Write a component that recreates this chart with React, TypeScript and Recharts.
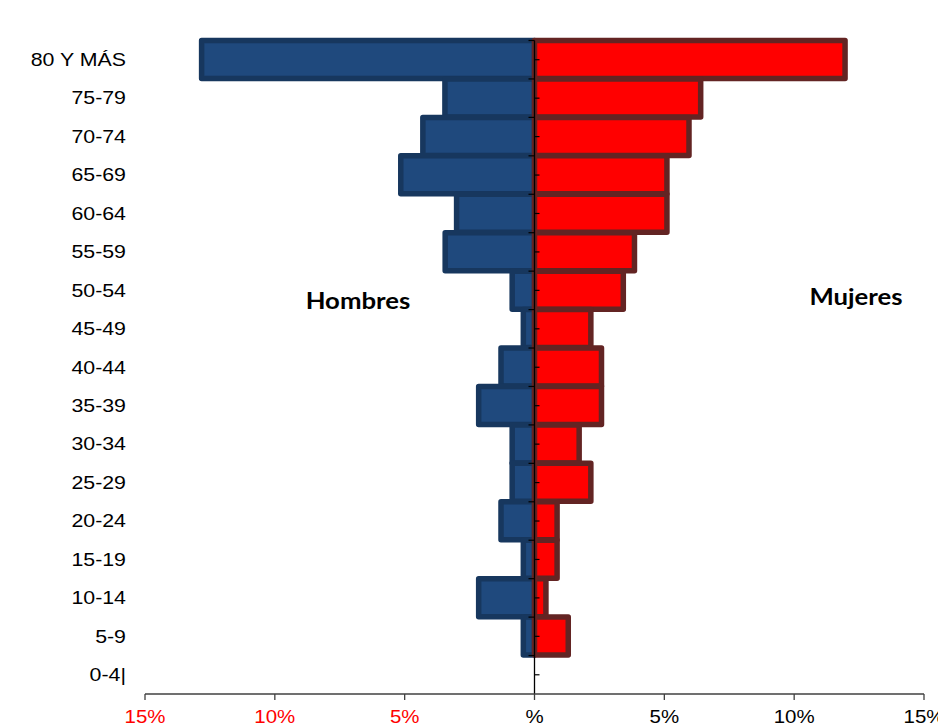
import React from "react";
import { BarChart, Bar, XAxis, YAxis, ReferenceLine } from "recharts";

const categories = [
  "80 Y MÁS", "75-79", "70-74", "65-69", "60-64", "55-59", "50-54", "45-49",
  "40-44", "35-39", "30-34", "25-29", "20-24", "15-19", "10-14", "5-9", "0-4|",
];
const hombres = [12.82, 3.45, 4.3, 5.15, 3.0, 3.44, 0.86, 0.43, 1.29, 2.15, 0.86, 0.86, 1.29, 0.43, 2.15, 0.43, 0];
const mujeres = [11.96, 6.4, 5.95, 5.1, 5.1, 3.85, 3.42, 2.17, 2.58, 2.58, 1.72, 2.17, 0.87, 0.87, 0.44, 1.3, 0];
const xTicks = [-15, -10, -5, 0, 5, 10, 15];

const data = categories.map((cat, i) => ({
  cat,
  hombres: -hombres[i],
  mujeres: mujeres[i],
}));

const FONT = "'Liberation Sans', Arial, sans-serif";

const YTick = (props: any) => {
  const { x, y, payload } = props;
  return (
    <g transform={`translate(${x},${y}) scale(1.22,1)`}>
      <text x={0} y={0} dy="0.36em" textAnchor="end" fontSize={17.5} fontFamily={FONT} fill="#000">
        {payload.value}
      </text>
    </g>
  );
};

const XTick = (props: any) => {
  const { x, y, payload } = props;
  const v = payload.value as number;
  const label = v === 0 ? "%" : `${Math.abs(v)}%`;
  return (
    <g transform={`translate(${x},${y + 20.5}) scale(1.17,1)`}>
      <text x={0} y={0} textAnchor="middle" fontSize={17.5} fontFamily={FONT} fill={v < 0 ? "#FF0000" : "#000"}>
        {label}
      </text>
    </g>
  );
};

const CenterAxis = (props: any) => {
  const { x1, y1, y2 } = props;
  const top = Math.min(y1, y2);
  const bottom = Math.max(y1, y2);
  const n = categories.length;
  const step = (bottom - top) / n;
  const marks = [];
  for (let k = 0; k < n; k++) {
    const yb = top + k * step;
    const ym = yb + step / 2;
    marks.push(<line key={`b${k}`} x1={x1 - 6} x2={x1} y1={yb} y2={yb} stroke="#000" strokeWidth={1.2} />);
    marks.push(<line key={`m${k}`} x1={x1} x2={x1 + 5} y1={ym} y2={ym} stroke="#000" strokeWidth={1.2} />);
  }
  return (
    <g>
      <line x1={x1} x2={x1} y1={top} y2={bottom} stroke="#000" strokeWidth={1.3} />
      {marks}
    </g>
  );
};

export default function App() {
  return (
    <div style={{ position: "relative", width: 938, height: 718 }}>
      <BarChart
        layout="vertical"
        width={938}
        height={718}
        data={data}
        margin={{ top: 32.5, right: 22, bottom: 0, left: 0 }}
        barCategoryGap={0}
        barGap={0}
        stackOffset="sign"
      >
        <XAxis
          type="number"
          domain={[-15, 15]}
          ticks={xTicks}
          allowDataOverflow
          height={32}
          tickSize={6}
          tickMargin={2}
          axisLine={{ stroke: "#404040", strokeWidth: 1.3 }}
          tickLine={{ stroke: "#404040", strokeWidth: 1.3 }}
          tick={<XTick />}
          interval={0}
        />
        <YAxis
          type="category"
          dataKey="cat"
          width={137}
          axisLine={false}
          tickLine={false}
          tickSize={0}
          tickMargin={19}
          tick={<YTick />}
          interval={0}
        />
        <Bar
          dataKey="hombres"
          stackId="a"
          fill="#1F497D"
          stroke="#17375E"
          strokeWidth={5.5}
          strokeLinejoin="round"
          isAnimationActive={false}
        />
        <Bar
          dataKey="mujeres"
          stackId="a"
          fill="#FF0000"
          stroke="#632423"
          strokeWidth={5.5}
          strokeLinejoin="round"
          isAnimationActive={false}
        />
        <ReferenceLine x={0} stroke="#000" shape={<CenterAxis />} />
      </BarChart>
      <svg
        width={938}
        height={718}
        style={{ position: "absolute", left: 0, top: 0, pointerEvents: "none" }}
      >
        <g transform="translate(350,301) scale(1.17,1)">
          <text textAnchor="middle" fontFamily="Lato, 'Open Sans', sans-serif" fontWeight={700} fontSize={22} fill="#000">
            Hombres
          </text>
        </g>
        <g transform="translate(848,297) scale(1.17,1)">
          <text textAnchor="middle" fontFamily="Lato, 'Open Sans', sans-serif" fontWeight={700} fontSize={22} fill="#000">
            Mujeres
          </text>
        </g>
      </svg>
    </div>
  );
}
